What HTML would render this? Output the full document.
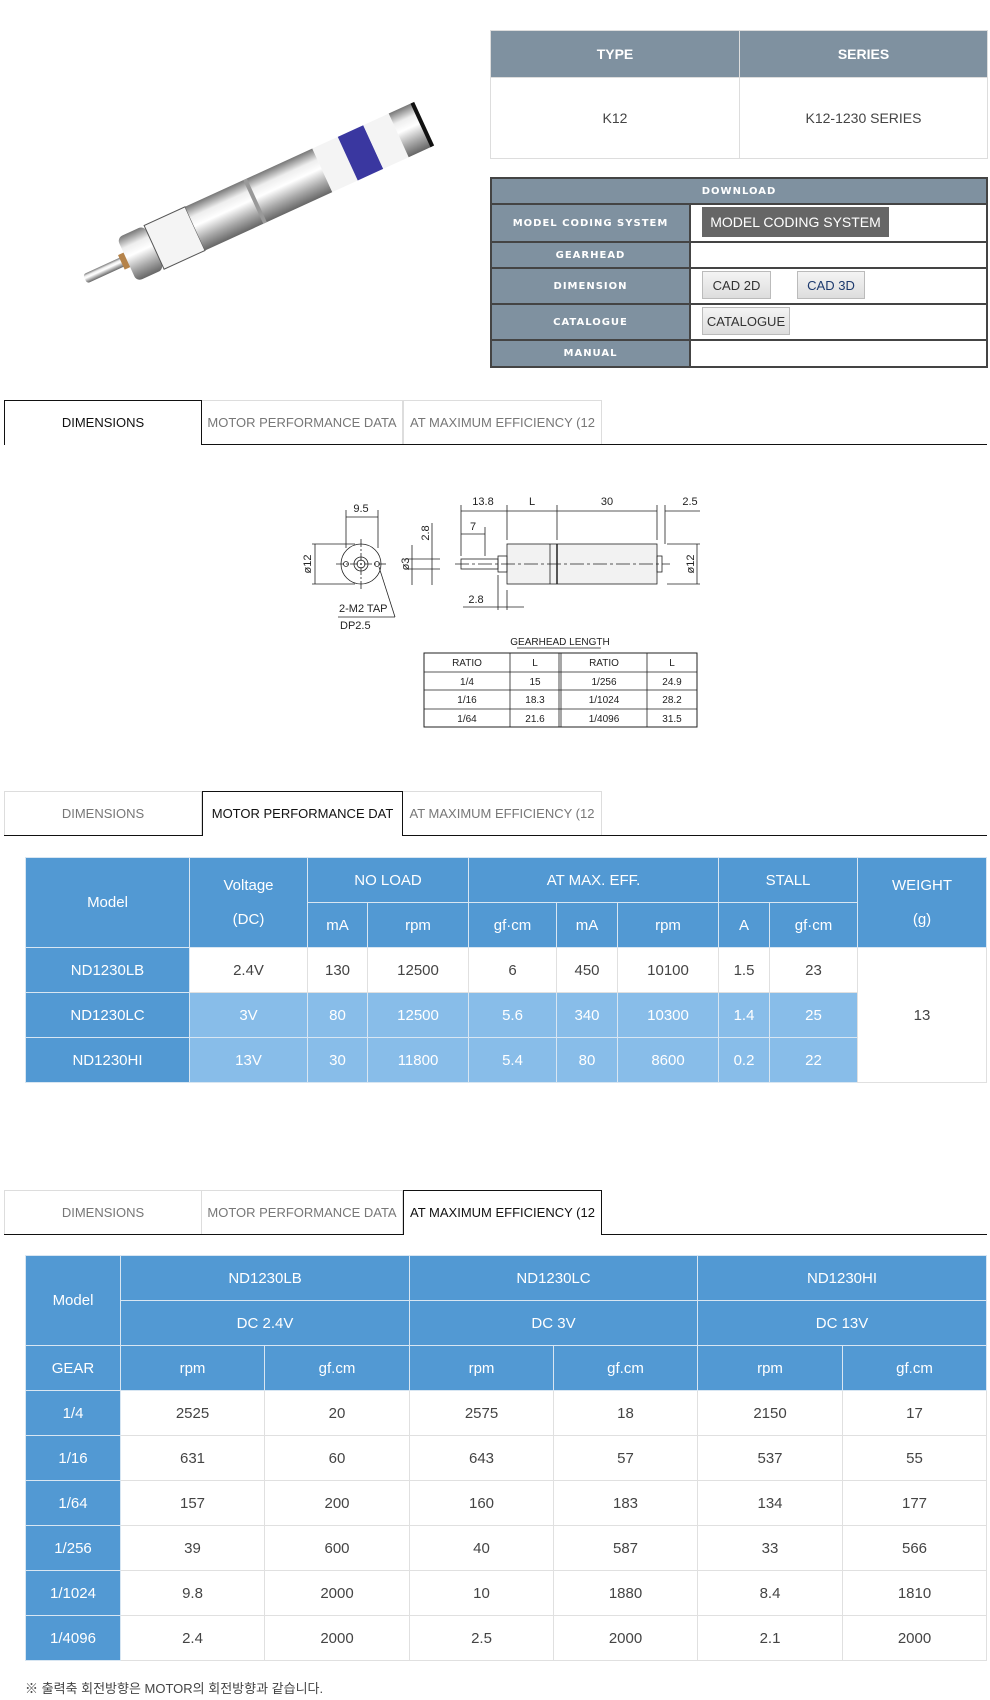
<!DOCTYPE html>
<html><head><meta charset="utf-8"><style>
*{margin:0;padding:0;box-sizing:border-box}
body{width:990px;height:1700px;background:#fff;position:relative;overflow:hidden;font-family:"Liberation Sans","Noto Sans CJK KR",sans-serif;color:#333}
.a{position:absolute}
table{border-collapse:collapse;table-layout:fixed;position:absolute}
.t1 td{border:1px solid #ddd;text-align:center;font-size:14px;color:#444}
.t1 th{background:#7f91a0;color:#fff;font-size:14px;border:1px solid #ddd}
.dl{left:490px;top:177px;width:498px;border:2px solid #444}
.dl td{border:2px solid #444;height:26px;font-size:11px}
.dl td.l{background:#7f91a0;color:#fff;font-weight:bold;letter-spacing:1px;text-align:center;font-family:"DejaVu Sans",sans-serif;font-size:10px}
.btn{position:absolute;font-size:13px;border:1px solid #bbb;background:linear-gradient(#f4f4f4,#ddd);color:#333;text-align:center;line-height:27px}
.tab{position:absolute;height:44px;font-size:13px;color:#777;text-align:center;line-height:44px;border-top:1px solid #ddd;border-right:1px solid #ddd;overflow:hidden;white-space:nowrap;background:#fff}
.tab.on{border:1px solid #111;border-bottom:none;color:#111;height:45px;z-index:2}
.line{position:absolute;left:4px;width:983px;height:1px;background:#111}
.bt td{border:1px solid #e0e0e0;text-align:center;font-size:15px;color:#444;height:45px}
.bt td.h{background:#5299d3;color:#fff;border-color:#d8e6f2}
.bt td.m{background:#5299d3;color:#fff;border-color:#d8e6f2}
.bt td.lb{background:#88bde9;color:#fff;border-color:#d8e6f2}
</style></head><body>

<svg class="a" style="left:0;top:0" width="480" height="380">
<defs>
<linearGradient id="cy" x1="0" y1="0" x2="0" y2="1">
<stop offset="0" stop-color="#777"/><stop offset=".25" stop-color="#eee"/><stop offset=".45" stop-color="#fff"/><stop offset=".75" stop-color="#a8a8a8"/><stop offset="1" stop-color="#666"/></linearGradient>
</defs>
<g transform="translate(85,279) rotate(-24.6)">
<rect x="0" y="-5" width="45" height="10" fill="url(#cy)" rx="3"/>
<rect x="40" y="-8" width="8" height="16" fill="#b5834a"/>
<rect x="46" y="-24" width="30" height="48" fill="url(#cy)" rx="6"/>
<rect x="76" y="-24" width="45" height="48" fill="#f4f4f4" stroke="#555"/>
<rect x="121" y="-24" width="140" height="48" fill="url(#cy)"/>
<rect x="185" y="-24" width="4" height="48" fill="#999"/>
<rect x="261" y="-24" width="28" height="48" fill="#f4f4f4"/>
<rect x="289" y="-24" width="28" height="48" fill="#3a37a0"/>
<rect x="317" y="-24" width="28" height="48" fill="#f4f4f4"/>
<rect x="345" y="-24" width="26" height="48" fill="url(#cy)"/>
<rect x="369" y="-24" width="4" height="48" fill="#111"/>
</g>
</svg>

<table class="t1" style="left:490px;top:30px;width:498px">
<tr style="height:47px"><th style="width:249px">TYPE</th><th>SERIES</th></tr>
<tr style="height:81px"><td>K12</td><td>K12-1230 SERIES</td></tr>
</table>

<table class="dl">
<colgroup><col style="width:199px"><col></colgroup>
<tr><td colspan="2" class="l" style="height:26px">DOWNLOAD</td></tr>
<tr><td class="l" style="height:38px">MODEL CODING SYSTEM</td><td></td></tr>
<tr><td class="l" style="height:25px">GEARHEAD</td><td></td></tr>
<tr><td class="l" style="height:36px">DIMENSION</td><td></td></tr>
<tr><td class="l" style="height:36px">CATALOGUE</td><td></td></tr>
<tr><td class="l" style="height:27px">MANUAL</td><td></td></tr>
</table>
<div class="btn" style="left:702px;top:207px;width:187px;height:30px;background:#666;color:#fff;border:none;line-height:30px;font-size:14px">MODEL CODING SYSTEM</div>
<div class="btn" style="left:702px;top:271px;width:69px;height:28px">CAD 2D</div>
<div class="btn" style="left:797px;top:271px;width:68px;height:28px;color:#1d3a6e">CAD 3D</div>
<div class="btn" style="left:702px;top:307px;width:88px;height:28px">CATALOGUE</div>

<div class="line" style="top:444px"></div>
<div class="tab on" style="left:4px;top:400px;width:198px">DIMENSIONS</div>
<div class="tab" style="left:202px;top:400px;width:201px">MOTOR PERFORMANCE DATA</div>
<div class="tab" style="left:403px;top:400px;width:199px;border-left:1px solid #ddd">AT MAXIMUM EFFICIENCY (12</div>

<svg class="a" style="left:0;top:0" width="990" height="760" font-family="Liberation Sans Narrow,Liberation Sans,sans-serif" font-size="11" fill="none" stroke="#222" stroke-width="0.8">
<circle cx="361" cy="564" r="20"/><circle cx="361" cy="564" r="7"/><circle cx="361" cy="564" r="4"/>
<circle cx="346" cy="564" r="2.5"/><circle cx="377" cy="564" r="2.5"/>
<line x1="336" y1="564" x2="386" y2="564" stroke-dasharray="8 2 2 2"/>
<line x1="361" y1="539" x2="361" y2="589" stroke-dasharray="8 2 2 2"/>
<line x1="346" y1="510" x2="346" y2="548"/><line x1="378" y1="510" x2="378" y2="548"/>
<line x1="346" y1="517" x2="378" y2="517"/>
<line x1="312" y1="544" x2="355" y2="544"/><line x1="312" y1="584" x2="355" y2="584"/>
<line x1="315" y1="544" x2="315" y2="584"/>
<line x1="379" y1="567" x2="395" y2="617"/><line x1="338" y1="617" x2="395" y2="617"/>
<rect x="507" y="544" width="150" height="40" fill="#f2f2f2"/>
<line x1="550" y1="544" x2="550" y2="584"/><line x1="557" y1="544" x2="557" y2="584" stroke-width="1.5"/>
<rect x="498" y="556" width="9" height="16"/>
<rect x="461" y="559" width="37" height="10"/>
<rect x="657" y="556" width="5" height="16"/>
<line x1="455" y1="564" x2="670" y2="564" stroke-dasharray="14 3 3 3"/>
<line x1="461" y1="505" x2="461" y2="556"/><line x1="507" y1="505" x2="507" y2="540"/><line x1="557" y1="505" x2="557" y2="540"/><line x1="657" y1="505" x2="657" y2="540"/><line x1="665" y1="505" x2="665" y2="544"/>
<line x1="461" y1="511" x2="507" y2="511"/><line x1="507" y1="511" x2="557" y2="511"/><line x1="557" y1="511" x2="657" y2="511"/><line x1="665" y1="511" x2="700" y2="511"/>
<line x1="485" y1="527" x2="485" y2="556"/><line x1="461" y1="534" x2="485" y2="534"/>
<line x1="432" y1="523" x2="432" y2="585"/><line x1="412" y1="545" x2="412" y2="585"/>
<line x1="405" y1="559" x2="440" y2="559"/><line x1="405" y1="569" x2="440" y2="569"/>
<line x1="498" y1="575" x2="498" y2="610"/><line x1="507" y1="590" x2="507" y2="610"/>
<line x1="463" y1="607" x2="524" y2="607"/>
<line x1="667" y1="544" x2="700" y2="544"/><line x1="667" y1="584" x2="700" y2="584"/><line x1="697" y1="544" x2="697" y2="584"/>
<g fill="#222" stroke="none">
<text x="361" y="512" text-anchor="middle">9.5</text>
<text transform="translate(311,564) rotate(-90)" text-anchor="middle">ø12</text>
<text x="339" y="612">2-M2 TAP</text><text x="340" y="629">DP2.5</text>
<text x="483" y="505" text-anchor="middle">13.8</text><text x="532" y="505" text-anchor="middle">L</text>
<text x="607" y="505" text-anchor="middle">30</text><text x="690" y="505" text-anchor="middle">2.5</text>
<text x="473" y="530" text-anchor="middle">7</text>
<text transform="translate(429,533) rotate(-90)" text-anchor="middle">2.8</text>
<text transform="translate(409,564) rotate(-90)" text-anchor="middle">ø3</text>
<text transform="translate(694,564) rotate(-90)" text-anchor="middle">ø12</text>
<text x="476" y="603" text-anchor="middle">2.8</text>
<text x="560" y="645" text-anchor="middle" font-size="10">GEARHEAD LENGTH</text>
</g>
<line x1="517" y1="648" x2="601" y2="648"/>
<rect x="424" y="653" width="273" height="74" stroke-width="1"/>
<line x1="424" y1="672" x2="697" y2="672"/><line x1="424" y1="690" x2="697" y2="690"/><line x1="424" y1="709" x2="697" y2="709"/>
<line x1="510" y1="653" x2="510" y2="727"/><line x1="559" y1="653" x2="559" y2="727"/><line x1="561" y1="653" x2="561" y2="727"/><line x1="647" y1="653" x2="647" y2="727"/>
<g fill="#222" stroke="none" font-size="10" text-anchor="middle">
<text x="467" y="666">RATIO</text><text x="535" y="666">L</text><text x="604" y="666">RATIO</text><text x="672" y="666">L</text>
<text x="467" y="685">1/4</text><text x="535" y="685">15</text><text x="604" y="685">1/256</text><text x="672" y="685">24.9</text>
<text x="467" y="703">1/16</text><text x="535" y="703">18.3</text><text x="604" y="703">1/1024</text><text x="672" y="703">28.2</text>
<text x="467" y="722">1/64</text><text x="535" y="722">21.6</text><text x="604" y="722">1/4096</text><text x="672" y="722">31.5</text>
</g>
</svg>

<div class="line" style="top:835px"></div>
<div class="tab" style="left:4px;top:791px;width:198px;border-left:1px solid #ddd">DIMENSIONS</div>
<div class="tab on" style="left:202px;top:791px;width:201px">MOTOR PERFORMANCE DAT</div>
<div class="tab" style="left:403px;top:791px;width:199px">AT MAXIMUM EFFICIENCY (12</div>

<table class="bt" style="left:25px;top:857px;width:962px">
<colgroup><col style="width:164px"><col style="width:118px"><col style="width:60px"><col style="width:101px"><col style="width:88px"><col style="width:61px"><col style="width:101px"><col style="width:51px"><col style="width:88px"><col></colgroup>
<tr><td class="h" rowspan="2">Model</td><td class="h" rowspan="2">Voltage<br><br>(DC)</td><td class="h" colspan="2">NO LOAD</td><td class="h" colspan="3">AT MAX. EFF.</td><td class="h" colspan="2">STALL</td><td class="h" rowspan="2">WEIGHT<br><br>(g)</td></tr>
<tr><td class="h">mA</td><td class="h">rpm</td><td class="h">gf·cm</td><td class="h">mA</td><td class="h">rpm</td><td class="h">A</td><td class="h">gf·cm</td></tr>
<tr><td class="m">ND1230LB</td><td>2.4V</td><td>130</td><td>12500</td><td>6</td><td>450</td><td>10100</td><td>1.5</td><td>23</td><td rowspan="3">13</td></tr>
<tr><td class="m">ND1230LC</td><td class="lb">3V</td><td class="lb">80</td><td class="lb">12500</td><td class="lb">5.6</td><td class="lb">340</td><td class="lb">10300</td><td class="lb">1.4</td><td class="lb">25</td></tr>
<tr><td class="m">ND1230HI</td><td class="lb">13V</td><td class="lb">30</td><td class="lb">11800</td><td class="lb">5.4</td><td class="lb">80</td><td class="lb">8600</td><td class="lb">0.2</td><td class="lb">22</td></tr>
</table>

<div class="line" style="top:1234px"></div>
<div class="tab" style="left:4px;top:1190px;width:198px;border-left:1px solid #ddd">DIMENSIONS</div>
<div class="tab" style="left:202px;top:1190px;width:201px">MOTOR PERFORMANCE DATA</div>
<div class="tab on" style="left:403px;top:1190px;width:199px">AT MAXIMUM EFFICIENCY (12</div>

<table class="bt" style="left:25px;top:1255px;width:962px">
<colgroup><col style="width:95px"><col style="width:144px"><col style="width:145px"><col style="width:144px"><col style="width:144px"><col style="width:145px"><col></colgroup>
<tr><td class="h" rowspan="2">Model</td><td class="h" colspan="2">ND1230LB</td><td class="h" colspan="2">ND1230LC</td><td class="h" colspan="2">ND1230HI</td></tr>
<tr><td class="h" colspan="2">DC 2.4V</td><td class="h" colspan="2">DC 3V</td><td class="h" colspan="2">DC 13V</td></tr>
<tr><td class="h">GEAR</td><td class="h">rpm</td><td class="h">gf.cm</td><td class="h">rpm</td><td class="h">gf.cm</td><td class="h">rpm</td><td class="h">gf.cm</td></tr>
<tr><td class="m">1/4</td><td>2525</td><td>20</td><td>2575</td><td>18</td><td>2150</td><td>17</td></tr>
<tr><td class="m">1/16</td><td>631</td><td>60</td><td>643</td><td>57</td><td>537</td><td>55</td></tr>
<tr><td class="m">1/64</td><td>157</td><td>200</td><td>160</td><td>183</td><td>134</td><td>177</td></tr>
<tr><td class="m">1/256</td><td>39</td><td>600</td><td>40</td><td>587</td><td>33</td><td>566</td></tr>
<tr><td class="m">1/1024</td><td>9.8</td><td>2000</td><td>10</td><td>1880</td><td>8.4</td><td>1810</td></tr>
<tr><td class="m">1/4096</td><td>2.4</td><td>2000</td><td>2.5</td><td>2000</td><td>2.1</td><td>2000</td></tr>
</table>

<div class="a" style="left:25px;top:1678px;font-size:13px;color:#444">※ 출력축 회전방향은 MOTOR의 회전방향과 같습니다.</div>
</body></html>
